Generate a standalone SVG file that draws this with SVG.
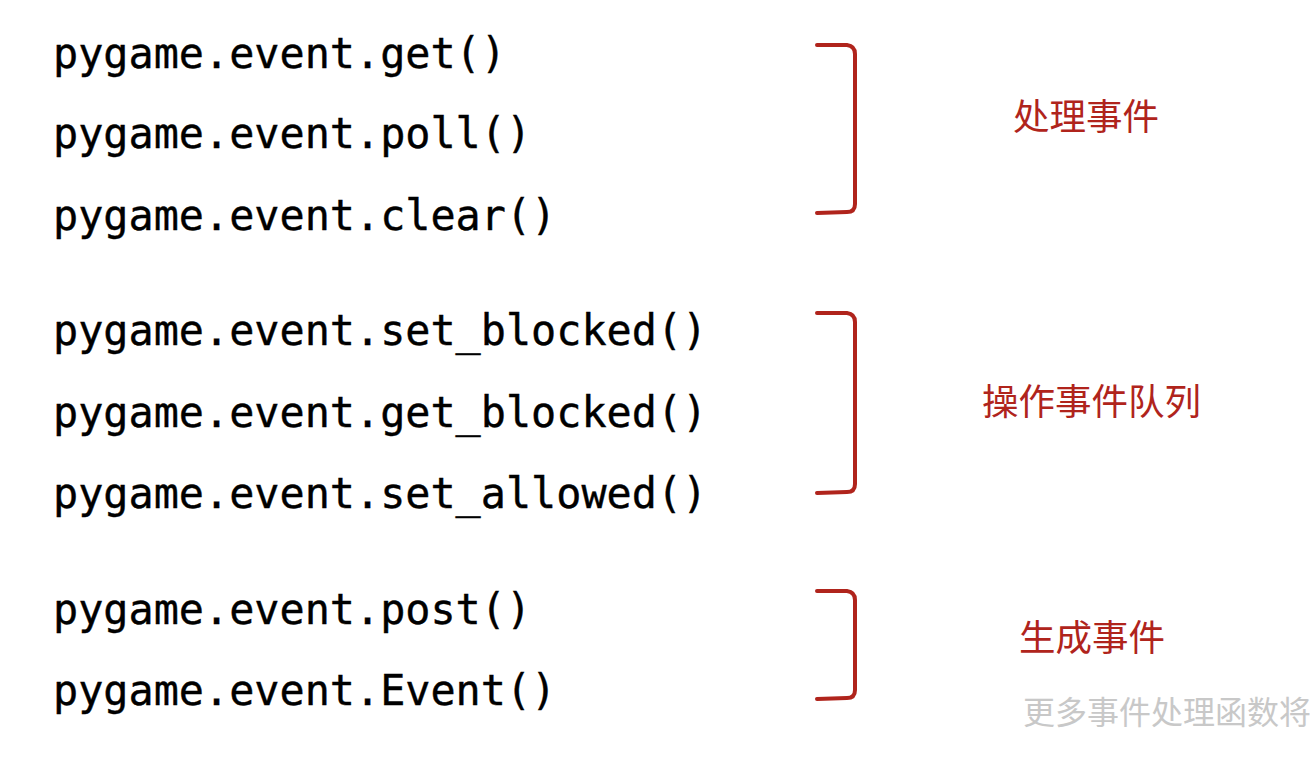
<svg xmlns="http://www.w3.org/2000/svg" width="1310" height="760" viewBox="0 0 1310 760">
<style>
.code{font-family:"DejaVu Sans Mono","Liberation Mono",monospace;font-size:41.8px;fill:#000;stroke:#000;stroke-width:0.4}
.lbl{font-family:"Noto Sans CJK SC","Noto Sans",sans-serif;font-size:36.5px;fill:#B0241C}
.note{font-family:"Noto Sans CJK SC","Noto Sans",sans-serif;font-size:32px;fill:#C8C8C8}
.br{fill:none;stroke:#B0241C;stroke-width:4;stroke-linecap:round;stroke-linejoin:round}
</style>
<rect width="1310" height="760" fill="#fff"/>
<g id="code">
<text class="code" x="53" y="68">pygame.event.get()</text>
<text class="code" x="53" y="148">pygame.event.poll()</text>
<text class="code" x="53" y="230">pygame.event.clear()</text>
<text class="code" x="53" y="345">pygame.event.set_blocked()</text>
<text class="code" x="53" y="427">pygame.event.get_blocked()</text>
<text class="code" x="53" y="508">pygame.event.set_allowed()</text>
<text class="code" x="53" y="624">pygame.event.post()</text>
<text class="code" x="53" y="705">pygame.event.Event()</text>
</g>
<g id="connectors">
<path class="br" d="M817,45 L847,45 Q855,46 855,54 L855,204 Q855,212 847,212 L817,213"/>
<path class="br" d="M817,313 L847,313 Q855,314 855,322 L855,484 Q855,492 847,492 L817,493"/>
<path class="br" d="M817,591 L847,591 Q855,592 855,600 L855,690 Q855,698 847,698 L817,699"/>
</g>
<g id="label1"><text class="lbl" x="1013" y="130">处理事件</text></g>
<g id="label2"><text class="lbl" x="982" y="415">操作事件队列</text></g>
<g id="label3"><text class="lbl" x="1019" y="651">生成事件</text></g>
<g id="note"><text class="note" x="1023" y="724">更多事件处理函数将</text></g>
</svg>
